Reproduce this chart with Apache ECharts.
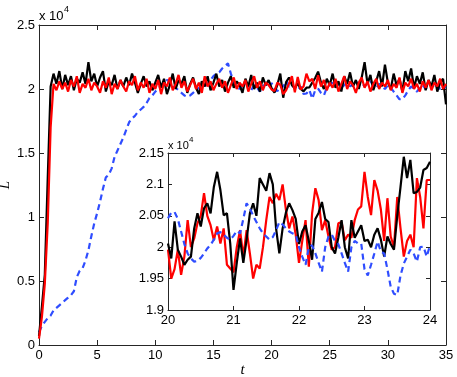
<!DOCTYPE html>
<html><head><meta charset="utf-8">
<script src="https://cdn.jsdelivr.net/npm/echarts@6/dist/echarts.min.js"></script>
<style>html,body{margin:0;padding:0;background:#fff}#c{width:457px;height:377px}</style>
</head><body><div id="c"></div>
<script>
// values in units of 1e4
const mainStart = 0, mainStep = 0.25;
const mainBlack = [
0.07,0.30,0.55,1.30,2.02,2.12,2.04,2.14,2.00,2.11,
2.03,2.10,1.99,2.08,2.05,2.13,2.04,2.21,2.06,2.12,
2.02,2.09,2.14,1.98,2.06,2.03,2.11,2.00,2.07,2.02,
2.09,2.03,2.12,2.05,1.97,2.04,2.10,2.02,2.06,1.99,
2.05,2.11,2.01,2.08,1.96,2.03,2.12,2.00,2.07,2.04,
2.10,1.97,2.04,2.09,2.01,1.96,2.06,2.02,2.10,1.99,
2.05,2.12,2.02,2.07,1.98,2.05,2.10,2.01,2.06,2.03,
1.97,2.08,2.02,2.11,2.00,2.05,1.98,2.09,2.03,2.07,
2.006,1.972,2.033,2.120,1.932,2.054,2.090,2.030,2.005,2.045,
2.000,1.982,2.010,2.012,2.050,2.086,2.136,2.05,2.00,2.08,
2.03,2.12,2.01,2.06,1.98,2.10,2.04,2.13,2.02,2.07,
2.00,2.09,2.21,2.04,2.11,1.99,2.06,2.14,2.02,2.19,
2.05,2.00,2.12,2.03,2.08,1.98,2.14,2.06,2.16,2.01,
2.10,2.04,2.13,1.99,2.07,2.02,2.11,1.98,2.05,2.08,1.88];
const mainRed = [
0.05,0.22,0.48,0.95,1.70,2.04,1.99,2.06,2.00,2.05,
1.98,2.07,2.02,2.10,1.97,2.04,2.01,2.08,1.99,2.05,
2.02,1.97,2.06,2.01,2.09,1.96,2.04,2.00,2.07,2.02,
1.98,2.06,2.03,2.10,1.99,2.05,2.01,2.08,1.97,2.04,
2.00,2.07,1.96,2.05,2.02,2.09,1.99,2.04,2.11,2.01,
2.06,1.98,2.03,2.08,2.00,2.05,1.97,2.10,2.02,2.06,
1.99,2.04,2.08,2.01,2.06,1.97,2.03,2.09,2.00,2.05,
2.02,2.07,1.98,2.04,2.10,2.01,2.06,1.99,2.05,2.03,
1.996,1.985,2.050,2.033,1.960,1.990,2.043,2.100,1.975,2.094,
1.996,2.020,2.120,2.060,2.080,2.000,2.107,2.02,2.07,1.99,
2.05,2.01,2.08,1.98,2.04,2.10,2.00,2.06,2.03,1.97,
2.05,2.09,2.01,2.06,1.98,2.04,2.08,2.00,2.05,2.02,
2.07,1.99,2.04,2.01,2.09,1.97,2.05,2.02,2.08,2.00,
2.04,1.98,2.06,2.01,2.07,1.99,2.05,2.02,2.08,2.00,2.04];
const mainBlue = [
0.10,0.15,0.18,0.21,0.23,0.27,0.29,0.31,0.33,0.35,
0.37,0.39,0.42,0.53,0.58,0.60,0.66,0.74,0.85,0.95,
1.03,1.12,1.22,1.31,1.33,1.38,1.47,1.52,1.57,1.62,
1.68,1.74,1.77,1.79,1.82,1.84,1.86,1.89,1.93,1.95,
1.98,2.00,2.03,2.05,2.07,2.06,2.03,2.01,1.99,1.97,
1.95,1.94,1.95,1.97,1.99,2.01,2.00,2.02,2.04,2.07,
2.10,2.12,2.13,2.16,2.18,2.20,2.12,2.05,2.02,2.00,
2.03,2.05,2.02,1.99,2.03,2.01,1.98,2.02,2.04,2.01,
2.046,2.005,1.983,2.022,2.018,2.062,2.017,2.036,2.000,1.990,
2.020,1.961,1.965,1.993,1.924,1.990,2.003,1.97,1.95,2.01,
2.03,2.05,2.02,2.04,2.01,2.03,2.05,2.02,2.04,2.06,
2.03,2.05,2.02,2.04,2.06,2.03,2.01,2.04,2.02,2.00,
2.03,2.01,1.98,1.95,1.92,1.92,1.95,1.99,2.02,2.00,
1.98,2.01,2.03,2.00,2.02,2.04,2.01,2.03,2.00,2.02,2.01];

const insetStart = 20, insetStep = 0.05;
const insetBlack = [
2.006,1.982,2.041,1.996,1.985,1.972,1.980,1.985,2.030,2.054,2.033,2.062,2.070,2.054,2.096,2.120,2.091,2.051,2.054,2.006,1.932,
1.975,2.014,1.975,2.012,2.054,2.070,2.050,2.110,2.100,2.090,2.118,2.100,2.030,1.990,2.030,2.055,2.070,2.059,2.045,2.005,
2.025,2.035,2.010,1.980,2.045,2.055,2.072,2.045,2.040,2.000,1.990,2.015,2.043,2.000,1.982,2.043,2.015,2.025,2.035,2.010,
2.012,2.000,2.020,2.030,2.012,1.985,2.017,2.005,1.996,2.050,2.096,2.144,2.110,2.139,2.086,2.088,2.095,2.123,2.126,2.136];
const insetRed = [
1.996,1.950,1.965,1.996,1.956,1.985,2.043,2.000,2.014,2.038,2.050,2.086,2.050,2.035,2.011,2.033,2.006,2.030,1.972,1.966,1.960,
2.000,2.027,1.985,2.027,1.990,1.950,1.972,1.966,2.000,2.043,2.080,2.070,2.085,2.075,2.100,2.060,2.030,2.049,2.020,1.975,
2.010,2.043,1.969,2.054,2.094,2.075,2.027,2.043,2.017,1.996,2.000,2.038,2.040,2.011,2.020,2.015,2.043,2.060,2.065,2.120,
2.080,2.051,2.107,2.090,2.060,2.010,2.078,2.017,2.000,2.080,2.030,1.985,2.010,2.020,2.000,2.110,2.080,2.030,2.107,2.107];
const insetBlue = [
2.046,2.055,2.056,2.045,2.025,2.005,1.990,1.982,1.977,1.978,1.983,1.990,1.998,2.004,2.012,2.022,2.024,2.020,2.015,2.012,2.018,
2.026,2.022,2.045,2.070,2.062,2.050,2.040,2.030,2.022,2.017,2.012,2.016,2.027,2.040,2.036,2.030,2.025,2.022,2.020,2.000,
1.985,1.972,2.000,2.003,1.990,1.975,1.961,2.000,2.017,2.020,2.010,2.005,1.990,1.975,1.961,2.000,2.010,2.006,2.006,1.965,
1.955,1.972,1.990,2.009,1.993,1.990,1.965,1.937,1.926,1.924,1.955,1.974,1.985,1.996,1.990,1.977,2.000,2.001,1.985,2.003];

const mainXTicks = [0, 35, 5];      // min, max, interval
const mainYTicks = [0, 2.5, 0.5];
const insetXTicks = [20, 24, 1];
const insetYTicks = [1.9, 2.15, 0.05];

function pairs(start, step, arr) {
  return arr.map((v, i) => [+(start + i * step).toFixed(4), v]);
}

const AX = '#262626';
const FONT = 'Liberation Sans';
function fmt(v) { return String(+(+v).toFixed(2)); }

function xAx(grid, t, pos, showLabel, tickLen, extra) {
  return Object.assign({
    gridIndex: grid, type: 'value', min: t[0], max: t[1], interval: t[2], position: pos,
    axisLine: { show: true, onZero: false, lineStyle: { color: AX, width: 1 } },
    axisTick: { show: true, inside: true, length: tickLen, lineStyle: { color: AX } },
    axisLabel: { show: showLabel, color: '#000', fontSize: 13, fontFamily: FONT, margin: 4, formatter: fmt, showMinLabel: true, showMaxLabel: true },
    splitLine: { show: false }
  }, extra || {});
}

const option = {
  animation: false,
  backgroundColor: '#fff',
  grid: [
    { left: 39, top: 25, width: 407, height: 320, show: false, outerBoundsMode: 'none', containLabel: false },
    { left: 168, top: 153, width: 262, height: 157, show: true, backgroundColor: '#fff', borderWidth: 0, z: 9, outerBoundsMode: 'none', containLabel: false }
  ],
  xAxis: [
    xAx(0, mainXTicks, 'bottom', true, 5, { name: 't', nameLocation: 'middle', nameGap: 18, nameMoveOverlap: false,
      nameTextStyle: { fontFamily: 'Liberation Serif', fontStyle: 'italic', fontSize: 15, color: '#000' } }),
    xAx(0, mainXTicks, 'top', false, 5),
    xAx(1, insetXTicks, 'bottom', true, 4, { z: 10, axisLabel: { color: '#000', fontSize: 13, fontFamily: FONT, margin: 4, formatter: fmt } }),
    xAx(1, insetXTicks, 'top', false, 4, { z: 10 })
  ],
  yAxis: [
    xAx(0, mainYTicks, 'left', true, 5, { name: 'L', nameLocation: 'middle', nameGap: 26, nameRotate: 90, nameMoveOverlap: false,
      nameTextStyle: { fontFamily: 'Liberation Serif', fontStyle: 'italic', fontSize: 15, color: '#000' } }),
    xAx(0, mainYTicks, 'right', false, 5),
    xAx(1, insetYTicks, 'left', true, 4, { z: 10 }),
    xAx(1, insetYTicks, 'right', false, 4, { z: 10 })
  ],
  series: [
    { type: 'line', xAxisIndex: 0, yAxisIndex: 0, data: pairs(mainStart, mainStep, mainBlue), showSymbol: false, z: 2,
      lineStyle: { color: '#2f4dff', width: 2.2, type: [6, 4] } },
    { type: 'line', xAxisIndex: 0, yAxisIndex: 0, data: pairs(mainStart, mainStep, mainBlack), showSymbol: false, z: 3,
      lineStyle: { color: '#000', width: 2.2 } },
    { type: 'line', xAxisIndex: 0, yAxisIndex: 0, data: pairs(mainStart, mainStep, mainRed), showSymbol: false, z: 4,
      lineStyle: { color: '#ff0000', width: 2.2 } },
    { type: 'line', xAxisIndex: 2, yAxisIndex: 2, data: pairs(insetStart, insetStep, insetRed), showSymbol: false, z: 11,
      lineStyle: { color: '#ff0000', width: 2.2 } },
    { type: 'line', xAxisIndex: 2, yAxisIndex: 2, data: pairs(insetStart, insetStep, insetBlack), showSymbol: false, z: 12,
      lineStyle: { color: '#000', width: 2.2 } },
    { type: 'line', xAxisIndex: 2, yAxisIndex: 2, data: pairs(insetStart, insetStep, insetBlue), showSymbol: false, z: 13,
      lineStyle: { color: '#2f4dff', width: 2.2, type: [6, 4] } }
  ],
  graphic: [
    { type: 'text', left: 39, top: 10, z: 20, style: { text: 'x 10', font: '13px "Liberation Sans"', fill: '#000' } },
    { type: 'text', left: 64, top: 5, z: 20, style: { text: '4', font: '9px "Liberation Sans"', fill: '#000' } },
    { type: 'text', left: 168, top: 140, z: 20, style: { text: 'x 10', font: '11px "Liberation Sans"', fill: '#000' } },
    { type: 'text', left: 189, top: 136, z: 20, style: { text: '4', font: '8px "Liberation Sans"', fill: '#000' } }
  ]
};
const chart = echarts.init(document.getElementById('c'), null, { renderer: 'canvas' });
chart.setOption(option);
</script></body></html>
